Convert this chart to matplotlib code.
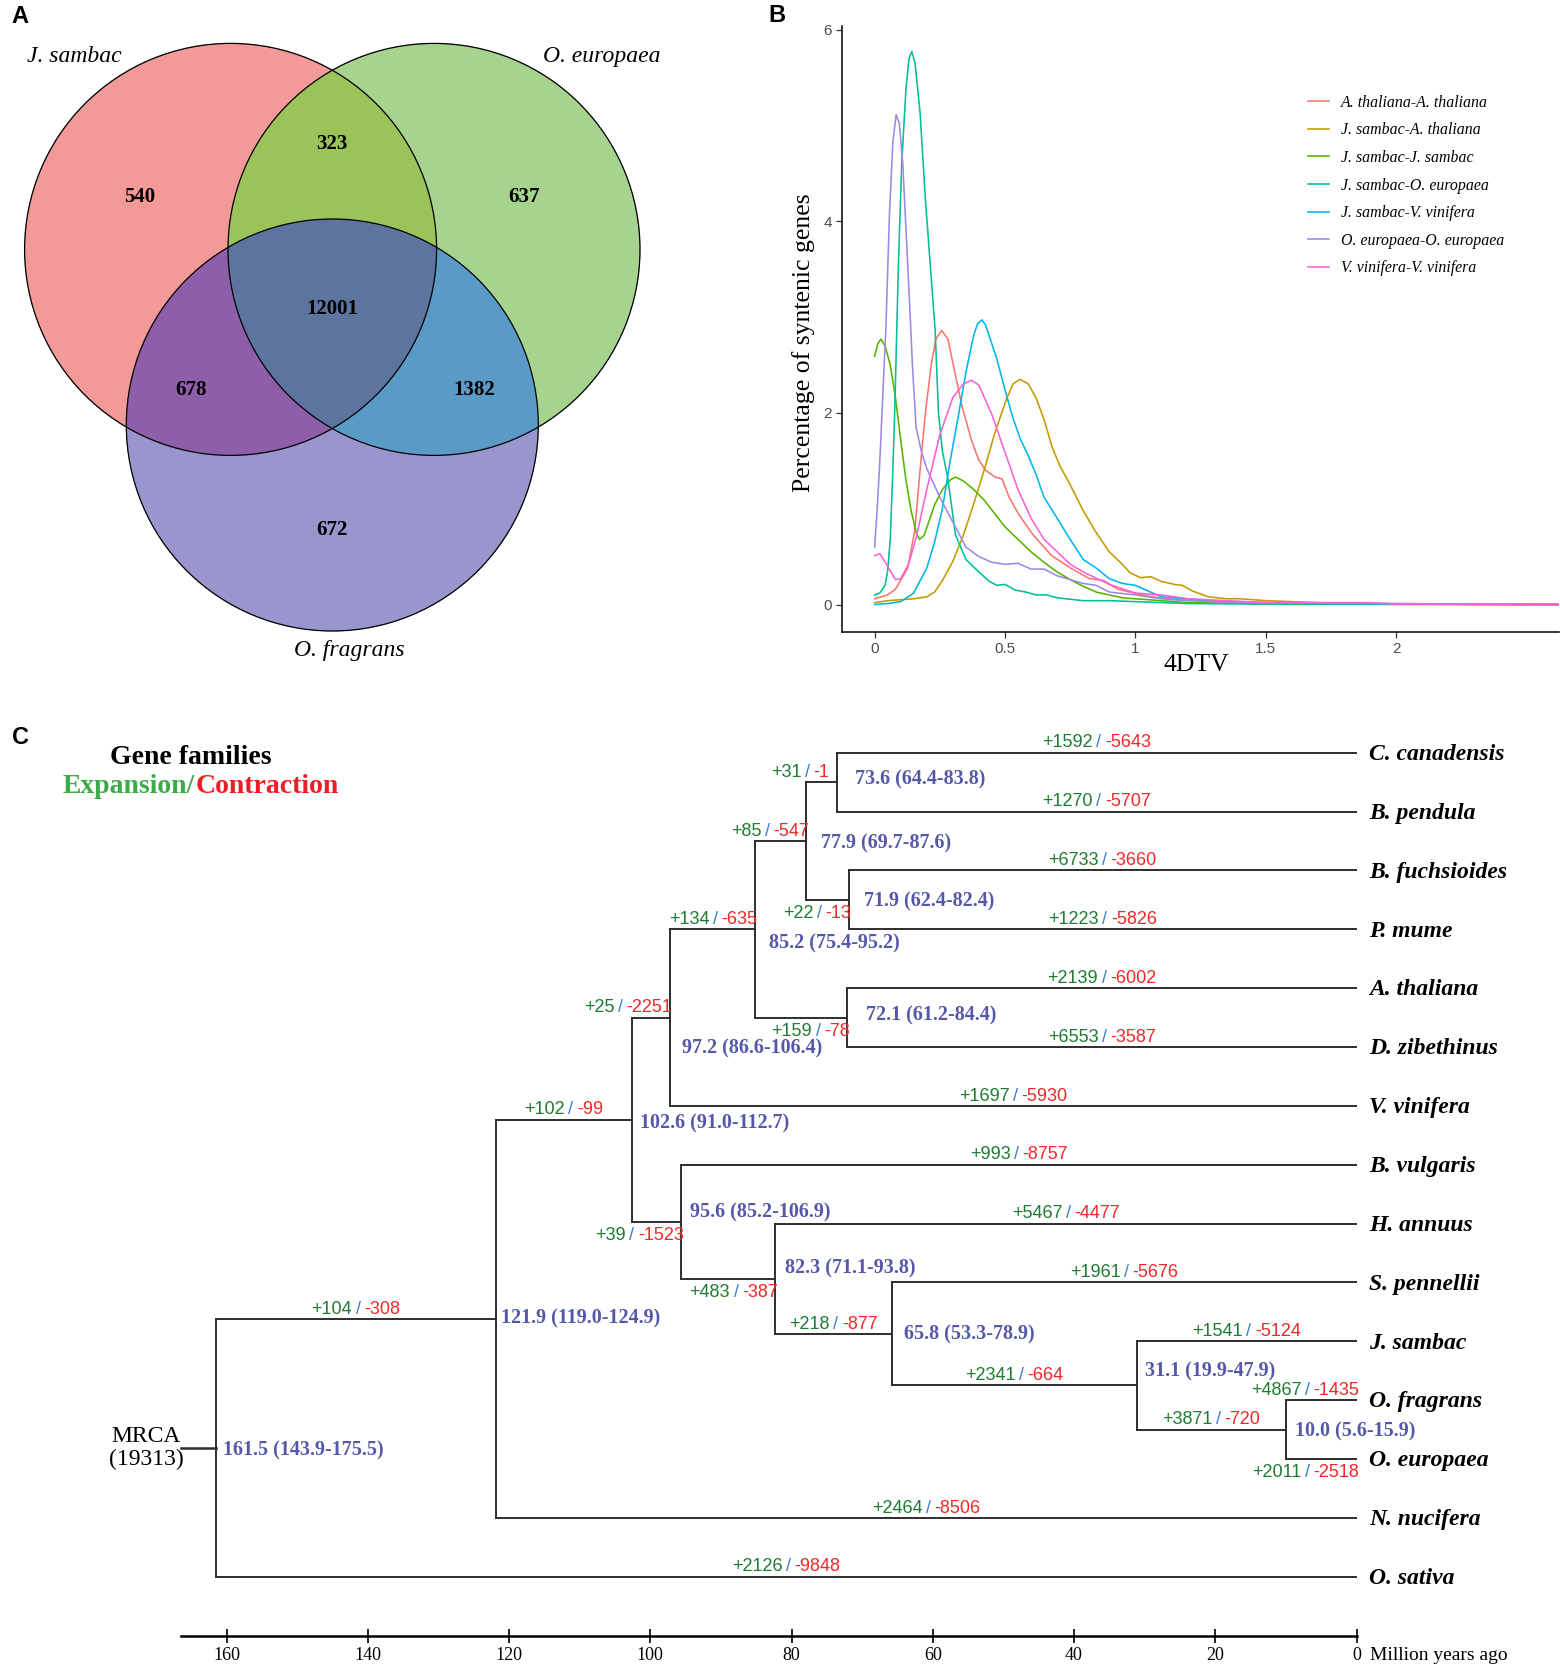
import numpy as np
import matplotlib.pyplot as plt
from matplotlib.colors import to_rgba
from matplotlib.patches import Circle
from matplotlib.offsetbox import TextArea, HPacker, AnnotationBbox

SERIF = 'Liberation Serif'
SANS = 'Liberation Sans'

# ---------------- A: Venn of gene families ----------------
venn_names = ['J. sambac', 'O. europaea', 'O. fragrans']
venn_regions = ['100', '010', '001', '110', '101', '011', '111']
venn_counts = [540, 637, 672, 323, 678, 1382, 12001]
venn_colors = ['#F39A98', '#A6D58E', '#9896CC', '#9BC35A', '#8F5FA8', '#5A9BC8', '#5C749E']

# ---------------- B: 4DTV distributions ----------------
pair_labels = ['A. thaliana-A. thaliana', 'J. sambac-A. thaliana', 'J. sambac-J. sambac',
               'J. sambac-O. europaea', 'J. sambac-V. vinifera', 'O. europaea-O. europaea',
               'V. vinifera-V. vinifera']
pair_colors = ['#F8766D', '#C49A00', '#53B400', '#00C094', '#00B6EB', '#9D88E8', '#FB61D7']

at_at_x = [0, 0.05, 0.08, 0.127, 0.154, 0.172, 0.194, 0.217, 0.235, 0.257, 0.281, 0.308, 0.335,
           0.371, 0.399, 0.426, 0.462, 0.489, 0.516, 0.553, 0.607, 0.679, 0.752, 0.824, 0.879,
           0.933, 1.024, 1.114, 1.295, 1.5, 2.0, 2.625]
at_at_y = [0.06, 0.1, 0.16, 0.38, 0.77, 1.33, 1.98, 2.5, 2.77, 2.86, 2.77, 2.42, 2.07,
           1.72, 1.51, 1.4, 1.33, 1.31, 1.12, 0.94, 0.73, 0.51, 0.38, 0.27, 0.25,
           0.16, 0.1, 0.06, 0.03, 0.01, 0.0, 0.0]

js_at_x = [0, 0.05, 0.1, 0.15, 0.2, 0.23, 0.26, 0.3, 0.34, 0.38, 0.42, 0.46, 0.5, 0.53, 0.558,
           0.59, 0.62, 0.65, 0.68, 0.71, 0.75, 0.8, 0.85, 0.9, 0.95, 0.98, 1.02, 1.06, 1.1,
           1.15, 1.18, 1.22, 1.28, 1.35, 1.4, 1.5, 1.7, 2.0, 2.625]
js_at_y = [0.02, 0.04, 0.05, 0.06, 0.08, 0.13, 0.25, 0.45, 0.72, 1.05, 1.4, 1.78, 2.1, 2.3, 2.35,
           2.3, 2.15, 1.93, 1.65, 1.45, 1.25, 0.98, 0.75, 0.55, 0.42, 0.33, 0.28, 0.29, 0.24,
           0.21, 0.2, 0.14, 0.08, 0.06, 0.06, 0.04, 0.02, 0.005, 0.0]

js_js_x = [0, 0.012, 0.024, 0.04, 0.06, 0.08, 0.1, 0.12, 0.14, 0.16, 0.172, 0.19, 0.21, 0.23,
           0.26, 0.29, 0.31, 0.34, 0.38, 0.42, 0.46, 0.5, 0.55, 0.6, 0.65, 0.7, 0.75, 0.8,
           0.85, 0.9, 0.95, 1.0, 1.1, 1.2, 1.5, 2.625]
js_js_y = [2.59, 2.72, 2.77, 2.7, 2.5, 2.16, 1.72, 1.3, 0.98, 0.75, 0.68, 0.72, 0.88, 1.04,
           1.2, 1.3, 1.33, 1.29, 1.2, 1.09, 0.95, 0.81, 0.68, 0.55, 0.44, 0.34, 0.26, 0.19,
           0.13, 0.1, 0.07, 0.06, 0.04, 0.02, 0.005, 0.0]

js_oe_x = [0, 0.02, 0.04, 0.05, 0.06, 0.07, 0.078, 0.085, 0.0914, 0.104, 0.12, 0.132, 0.1427,
           0.155, 0.1745, 0.194, 0.213, 0.232, 0.245, 0.26, 0.28, 0.31, 0.35, 0.4, 0.44, 0.47,
           0.5, 0.54, 0.58, 0.62, 0.66, 0.7, 0.8, 0.9, 1.0, 1.2, 1.5, 2.625]
js_oe_y = [0.1, 0.12, 0.2, 0.35, 0.68, 1.4, 2.1, 2.87, 3.56, 4.6, 5.37, 5.7, 5.77,
           5.65, 5.13, 4.26, 3.56, 2.87, 2.0, 1.6, 1.33, 0.73, 0.47, 0.34, 0.24, 0.2,
           0.21, 0.15, 0.13, 0.1, 0.1, 0.07, 0.04, 0.04, 0.03, 0.01, 0.005, 0.0]

js_vv_x = [0, 0.05, 0.1, 0.15, 0.2, 0.23, 0.26, 0.29, 0.32, 0.35, 0.38, 0.395, 0.411, 0.425,
           0.44, 0.47, 0.5, 0.53, 0.56, 0.59, 0.62, 0.65, 0.7, 0.75, 0.8, 0.85, 0.9, 0.95,
           1.0, 1.05, 1.1, 1.2, 1.3, 1.5, 2.0, 2.625]
js_vv_y = [0.0, 0.01, 0.03, 0.12, 0.38, 0.65, 1.0, 1.5, 1.95, 2.42, 2.81, 2.93, 2.97, 2.92,
           2.8, 2.55, 2.24, 1.95, 1.72, 1.55, 1.35, 1.12, 0.9, 0.68, 0.47, 0.38, 0.27, 0.22,
           0.2, 0.14, 0.08, 0.06, 0.04, 0.02, 0.005, 0.0]

oe_oe_x = [0, 0.01, 0.02, 0.035, 0.043, 0.047, 0.057, 0.07, 0.0824, 0.095, 0.108, 0.1235, 0.136,
           0.145, 0.159, 0.179, 0.2, 0.25, 0.3, 0.35, 0.4, 0.45, 0.5, 0.55, 0.6, 0.65, 0.7,
           0.8, 0.85, 0.9, 1.0, 1.1, 1.2, 1.4, 2.625]
oe_oe_y = [0.6, 1.0, 1.5, 2.4, 2.87, 3.21, 4.08, 4.82, 5.11, 5.02, 4.6, 3.74, 3.04,
           2.5, 1.85, 1.6, 1.42, 1.12, 0.86, 0.6, 0.5, 0.44, 0.42, 0.43, 0.37, 0.37, 0.3,
           0.22, 0.2, 0.13, 0.1, 0.06, 0.04, 0.02, 0.0]

vv_vv_x = [0, 0.02, 0.05, 0.08, 0.1, 0.13, 0.16, 0.2, 0.25, 0.3, 0.34, 0.371, 0.4, 0.45, 0.5,
           0.55, 0.6, 0.65, 0.7, 0.75, 0.8, 0.9, 1.0, 1.1, 1.15, 1.2, 1.5, 1.9, 2.0, 2.625]
vv_vv_y = [0.51, 0.53, 0.4, 0.26, 0.27, 0.42, 0.7, 1.2, 1.77, 2.16, 2.3, 2.34, 2.29, 1.98, 1.59,
           1.2, 0.9, 0.68, 0.55, 0.42, 0.34, 0.21, 0.12, 0.1, 0.08, 0.06, 0.02, 0.02, 0.005, 0.0]

pair_x = [at_at_x, js_at_x, js_js_x, js_oe_x, js_vv_x, oe_oe_x, vv_vv_x]
pair_y = [at_at_y, js_at_y, js_js_y, js_oe_y, js_vv_y, oe_oe_y, vv_vv_y]

# ---------------- C: dated tree with gene family changes ----------------
species = ['C. canadensis', 'B. pendula', 'B. fuchsioides', 'P. mume', 'A. thaliana',
           'D. zibethinus', 'V. vinifera', 'B. vulgaris', 'H. annuus', 'S. pennellii',
           'J. sambac', 'O. fragrans', 'O. europaea', 'N. nucifera', 'O. sativa']
leaf_gain = [1592, 1270, 6733, 1223, 2139, 6553, 1697, 993, 5467, 1961, 1541, 4867, 2011, 2464, 2126]
leaf_loss = [5643, 5707, 3660, 5826, 6002, 3587, 5930, 8757, 4477, 5676, 5124, 1435, 2518, 8506, 9848]

node_ages = [161.5, 121.9, 102.6, 97.2, 85.2, 77.9, 73.6, 71.9, 72.1, 95.6, 82.3, 65.8, 31.1, 10.0]
node_ci = ['143.9-175.5', '119.0-124.9', '91.0-112.7', '86.6-106.4', '75.4-95.2', '69.7-87.6',
           '64.4-83.8', '62.4-82.4', '61.2-84.4', '85.2-106.9', '71.1-93.8', '53.3-78.9',
           '19.9-47.9', '5.6-15.9']
node_children = [(1, 'O. sativa'), (2, 'N. nucifera'), (3, 9), (4, 'V. vinifera'), (5, 8),
                 (6, 7), ('C. canadensis', 'B. pendula'), ('B. fuchsioides', 'P. mume'),
                 ('A. thaliana', 'D. zibethinus'), ('B. vulgaris', 10), ('H. annuus', 11),
                 ('S. pennellii', 12), ('J. sambac', 13), ('O. fragrans', 'O. europaea')]
node_gain = [None, 104, 102, 25, 134, 85, 31, 22, 159, 39, 483, 218, 2341, 3871]
node_loss = [None, 308, 99, 2251, 635, 547, 1, 13, 78, 1523, 387, 877, 664, 720]
mrca_families = 19313

# ---------------- figure ----------------
W, H = 1560, 1666
fig = plt.figure(figsize=(W / 100, H / 100), dpi=100)
fig.patch.set_facecolor('white')


def add_axes_px(x0, y0, x1, y1):
    return fig.add_axes([x0 / W, 1 - y1 / H, (x1 - x0) / W, (y1 - y0) / H])


#panel letters
for lab, (px, py) in zip('ABC', [(11, 16.5), (768, 15.8), (11.7, 738)]):
    fig.text(px / W, 1 - py / H, lab, ha='left', va='center', fontsize=17,
             fontweight='bold', family=SANS)

# ----- A -----
axA = add_axes_px(0, 0, 740, 690)
circle_xy = [(230.6, 249.4), (434.0, 249.4), (332.3, 425.0)]
radius = 206
gx, gy = np.meshgrid(np.arange(0, 740, 0.5) + 0.25, np.arange(0, 690, 0.5) + 0.25)
code = np.zeros(gx.shape, dtype=int)
for i, (cx, cy) in enumerate(circle_xy):
    code += (((gx - cx) ** 2 + (gy - cy) ** 2) <= radius ** 2).astype(int) << (2 - i)
rgba = np.zeros(gx.shape + (4,))
for reg, col in zip(venn_regions, venn_colors):
    rgba[code == int(reg, 2)] = to_rgba(col)
axA.imshow(rgba, extent=(0, 740, 690, 0), interpolation='bilinear')
for cx, cy in circle_xy:
    axA.add_patch(Circle((cx, cy), radius, fill=False, ec='black', lw=0.9))
count_pos = [(140, 197.3), (524, 197.3), (332, 530), (332, 144.4), (191, 390.3),
             (474, 390.3), (332, 308.8)]
for n, (px, py) in zip(venn_counts, count_pos):
    axA.text(px, py, str(n), ha='center', va='center', fontsize=15, fontweight='bold',
             family=SERIF)
name_pos = [(74, 56.4), (602, 56.4), (349, 650.5)]
for nm, (px, py) in zip(venn_names, name_pos):
    axA.text(px, py, nm, ha='center', va='center', fontsize=17, style='italic', family=SERIF)
axA.set_xlim(0, 740)
axA.set_ylim(690, 0)
axA.axis('off')

# ----- B -----
axB = add_axes_px(841.5, 25.7, 1559, 632.3)
for xs, ys, lab, col in zip(pair_x, pair_y, pair_labels, pair_colors):
    axB.plot(xs, ys, color=col, lw=1.15, label=lab, solid_joinstyle='round')
axB.set_xlim(-0.127, 2.625)
axB.set_ylim(-0.29, 6.04)
for s in ['top', 'right']:
    axB.spines[s].set_visible(False)
for s in ['left', 'bottom']:
    axB.spines[s].set_linewidth(1.1)
axB.set_xticks([0, 0.5, 1, 1.5, 2])
axB.set_xticklabels(['0', '0.5', '1', '1.5', '2'])
axB.set_yticks([0, 2, 4, 6])
axB.tick_params(direction='out', length=4, width=0.9, labelsize=11, colors='#333333',
                labelcolor='#4D4D4D', labelfontfamily=SANS, pad=3)
axB.text(-0.0527, 0.477, 'Percentage of syntenic genes', transform=axB.transAxes,
         rotation=90, ha='center', va='center', fontsize=18.5, family=SERIF)
axB.text((1196 - 841.5) / 717.5, -(665 - 632.3) / 606.6, '4DTV', transform=axB.transAxes,
         ha='center', va='center', fontsize=18.5, family=SERIF)
leg = axB.legend(loc='upper left', bbox_to_anchor=(0.6498, 0.886), frameon=False,
                 borderpad=0, borderaxespad=0, handlelength=1.35, handletextpad=0.75,
                 labelspacing=0.73, prop=dict(family=SERIF, style='italic', size=11.4))

# ----- C -----
axC = add_axes_px(170, 717.4, 1356.5, 1636)
axC.set_xlim(168, 0)
axC.set_ylim(15.008, -0.6)
for s in ['top', 'right', 'left']:
    axC.spines[s].set_visible(False)
axC.spines['bottom'].set_bounds(0, 166.5)
axC.spines['bottom'].set_linewidth(1.8)
axC.set_xticks(range(0, 161, 20))
axC.set_yticks([])
axC.tick_params(axis='x', direction='inout', length=9.5, width=1.2, pad=3, labelsize=13,
                labelfontfamily=SERIF)

TREE = '#2E2E2E'
GAIN, SLASH, LOSS = '#1E7B32', '#3A7FD0', '#F02828'
AGE_COL = '#5558A8'


def age_of(c):
    return 0.0 if isinstance(c, str) else node_ages[c]


def y_of(c):
    if isinstance(c, str):
        return species.index(c)
    return np.mean([y_of(ch) for ch in node_children[c]])


def gain_loss(c):
    if isinstance(c, str):
        i = species.index(c)
        return leaf_gain[i], leaf_loss[i]
    return node_gain[c], node_loss[c]


#where the +gain/-loss label sits: c = centred above, ra/rb = right aligned above/below
label_place = {'O. fragrans': 'ra', 'O. europaea': 'rb', 3: 'ra', 4: 'ra', 5: 'ra', 6: 'ra',
               7: 'rb', 8: 'rb', 9: 'rb', 10: 'rb'}
label_dx = {6: -5.4}
#offsets (pixels) of the node age labels
age_off = [(7, 3), (5, 0), (8, 4), (11.5, 31), (14, 14), (15, 2.3), (18.5, -2.7), (15, 1.7),
           (19, -1.7), (9, -9.3), (10, -10.7), (12, 1), (8, -13.5), (9, 2.3)]


def branch_label(x, y, gain, loss, place, dx=1.8):
    parts = [TextArea('+%d' % gain, textprops=dict(color=GAIN, size=13, family=SANS)),
             TextArea('/', textprops=dict(color=SLASH, size=13, family=SANS)),
             TextArea('-%d' % loss, textprops=dict(color=LOSS, size=13, family=SANS))]
    box = HPacker(children=parts, sep=2.5, pad=0, align='baseline')
    if place == 'c':
        align, off = (0.5, 0.5), (0, 7)
    elif place == 'ra':
        align, off = (1, 0.5), (dx, 7)
    else:
        align, off = (1, 0.5), (dx, -9.9)
    ab = AnnotationBbox(box, (x, y), xybox=off, xycoords='data', boxcoords='offset points',
                        box_alignment=align, frameon=False, pad=0, annotation_clip=False)
    axC.add_artist(ab)


for k, age in enumerate(node_ages):
    kids = node_children[k]
    ys = [y_of(c) for c in kids]
    axC.plot([age, age], [min(ys), max(ys)], color=TREE, lw=1.4, solid_capstyle='projecting')
    for c, y in zip(kids, ys):
        a = age_of(c)
        axC.plot([age, a], [y, y], color=TREE, lw=1.4, solid_capstyle='projecting')
        g, l = gain_loss(c)
        place = label_place.get(c, 'c')
        x = (age + a) / 2 if place == 'c' else a
        branch_label(x, y, g, l, place, dx=label_dx.get(c, 1.8))
    dx, dy = age_off[k]
    axC.annotate('%.1f (%s)' % (age, node_ci[k]), xy=(age, y_of(k)),
                 xytext=(dx / 1.389, -dy / 1.389), textcoords='offset points',
                 ha='left', va='center', fontsize=14.5, fontweight='bold', family=SERIF,
                 color=AGE_COL, annotation_clip=False)

#root stem and MRCA
root_y = y_of(0)
axC.plot([166.4, node_ages[0]], [root_y, root_y], color=TREE, lw=1.8)
axC.text(171.4, root_y, 'MRCA\n(%d)' % mrca_families, ha='center', va='center',
         ma='center', fontsize=17, family=SERIF, linespacing=1.1, clip_on=False)

for i, sp in enumerate(species):
    axC.annotate(sp, xy=(0, i), xytext=(9, -5.3), textcoords='offset points', ha='left',
                 va='baseline', fontsize=17, fontweight='bold', style='italic', family=SERIF,
                 annotation_clip=False)

axC.text(-1.98, 15.347, 'Million years ago', ha='left', va='center', fontsize=14,
         family=SERIF, clip_on=False)

fig.text(190.7 / W, 1 - 757.7 / H, 'Gene families', ha='center', va='center', fontsize=20,
         fontweight='bold', family=SERIF)
title_parts = [TextArea('Expansion/', textprops=dict(color='#3DAA4A', size=20,
                                                    weight='bold', family=SERIF)),
               TextArea('Contraction', textprops=dict(color='#EE1C25', size=20,
                                                      weight='bold', family=SERIF))]
tbox = HPacker(children=title_parts, sep=0, pad=0, align='baseline')
axC.add_artist(AnnotationBbox(tbox, (200.8 / W, 1 - 786.7 / H), xycoords='figure fraction',
                              box_alignment=(0.5, 0.5), frameon=False, pad=0,
                              annotation_clip=False))

fig.savefig('out.png', dpi=100)
